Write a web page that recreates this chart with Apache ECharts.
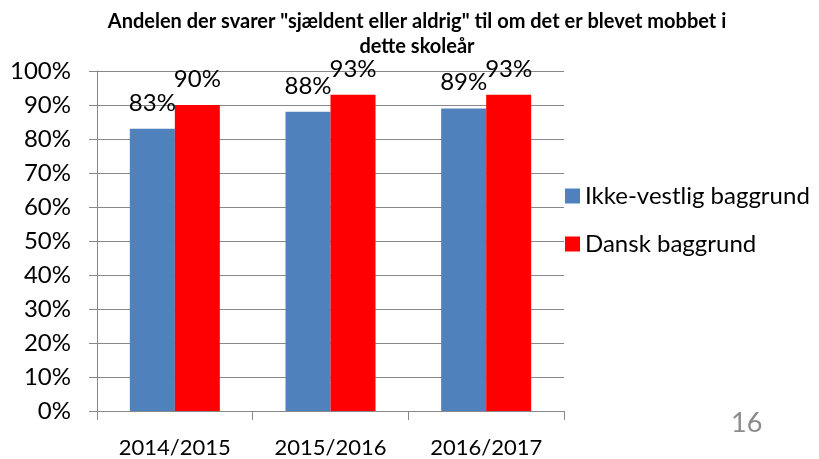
<!DOCTYPE html>
<html>
<head>
<meta charset="utf-8">
<script src="https://cdn.jsdelivr.net/npm/echarts@6/dist/echarts.min.js"></script>
<style>
  html, body { margin: 0; padding: 0; background: #fff; }
  #main { width: 819px; height: 459px; }
</style>
</head>
<body>
<div id="main"></div>
<script>
// data
var categories = ['2014/2015', '2015/2016', '2016/2017'];
var ikkeVestlig = [83, 88, 89];
var dansk = [90, 93, 93];
var seriesNames = ['Ikke-vestlig baggrund', 'Dansk baggrund'];

var chart = echarts.init(document.getElementById('main'));

var labelStyle = {
  show: true,
  position: 'top',
  distance: 14,
  formatter: '{c}%',
  color: '#000',
  fontFamily: 'Lato',
  fontSize: 24
};

var option = {
  animation: false,
  textStyle: { fontFamily: 'Lato' },
  title: {
    text: 'Andelen der svarer "sjældent eller aldrig" til om det er blevet mobbet i\ndette skoleår',
    left: 417,
    top: 9,
    padding: 0,
    textAlign: 'center',
    textStyle: { fontFamily: 'Lato', fontWeight: 'bold', fontSize: 20, lineHeight: 25, color: '#000' }
  },
  graphic: [{
    type: 'text',
    left: 731,
    top: 410,
    style: { text: '16', fontFamily: 'Lato', fontSize: 27, fill: '#8c8c8c' }
  }],
  legend: {
    orient: 'vertical',
    left: 565,
    top: 184,
    padding: 0,
    itemWidth: 15,
    itemHeight: 15,
    itemGap: 24,
    icon: 'rect',
    textStyle: { fontFamily: 'Lato', fontSize: 24, color: '#000' },
    data: seriesNames
  },
  grid: { left: 97, right: 255, top: 71, bottom: 46, containLabel: false },
  xAxis: {
    type: 'category',
    data: categories,
    axisLine: { lineStyle: { color: '#888' } },
    axisTick: { show: true, length: 9, lineStyle: { color: '#888' } },
    axisLabel: { interval: 0, hideOverlap: false, color: '#000', fontFamily: 'Lato', fontSize: 22, margin: 26 }
  },
  yAxis: {
    type: 'value',
    min: 0,
    max: 100,
    interval: 10,
    axisLine: { show: true, lineStyle: { color: '#888' } },
    axisTick: { show: true, length: 8, lineStyle: { color: '#888' } },
    axisLabel: { formatter: '{value}%', color: '#000', fontFamily: 'Lato', fontSize: 24, margin: 26 },
    splitLine: { lineStyle: { color: '#888' } }
  },
  series: [
    {
      name: seriesNames[0],
      type: 'bar',
      data: ikkeVestlig,
      barWidth: 45,
      barGap: '0%',
      itemStyle: { color: '#4F81BD' },
      label: labelStyle
    },
    {
      name: seriesNames[1],
      type: 'bar',
      data: dansk,
      barWidth: 45,
      itemStyle: { color: '#FF0000' },
      label: labelStyle
    }
  ]
};

chart.setOption(option);
</script>
</body>
</html>
